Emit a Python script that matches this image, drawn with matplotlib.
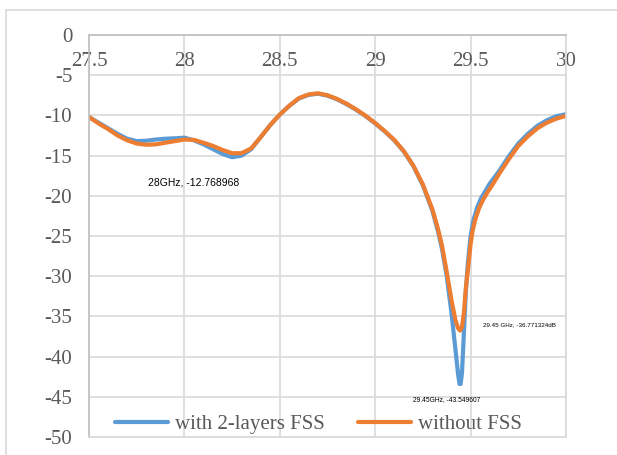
import matplotlib
matplotlib.use("Agg")
import matplotlib.pyplot as plt
from matplotlib.patches import Rectangle

freq_fss = [27.5, 27.55, 27.6, 27.65, 27.7, 27.75, 27.8, 27.85, 27.9, 27.95, 28.0, 28.05,
            28.1, 28.15, 28.2, 28.25, 28.3, 28.35, 28.4, 28.45, 28.5, 28.55, 28.6, 28.65,
            28.7, 28.75, 28.8, 28.85, 28.9, 28.95, 29.0, 29.05, 29.1, 29.15, 29.2, 29.25,
            29.3, 29.33, 29.35, 29.375, 29.4, 29.42, 29.435, 29.442, 29.448, 29.455, 29.465,
            29.475, 29.485, 29.5, 29.515, 29.535, 29.555, 29.58, 29.6, 29.65, 29.7, 29.75,
            29.8, 29.85, 29.9, 29.95, 30.0]
s11_fss = [-10.2, -10.9, -11.6, -12.3, -12.9, -13.2, -13.15, -13.0, -12.9, -12.85, -12.77, -13.1,
           -13.6, -14.2, -14.8, -15.2, -15.0, -14.2, -12.7, -11.2, -9.9, -8.8, -7.9, -7.45,
           -7.3, -7.55, -8.0, -8.6, -9.3, -10.1, -11.0, -12.0, -13.1, -14.5, -16.3, -18.7,
           -21.9, -24.5, -26.6, -30.0, -34.6, -39.0, -42.3, -43.4, -43.4, -42.0, -37.0,
           -32.0, -28.5, -25.0, -23.0, -21.4, -20.3, -19.3, -18.5, -16.9, -15.1, -13.5,
           -12.3, -11.3, -10.6, -10.1, -9.85]

freq_nofss = [27.5, 27.55, 27.6, 27.65, 27.7, 27.75, 27.8, 27.85, 27.9, 27.95, 28.0, 28.05,
              28.1, 28.15, 28.2, 28.25, 28.3, 28.35, 28.4, 28.45, 28.5, 28.55, 28.6, 28.65,
              28.7, 28.75, 28.8, 28.85, 28.9, 28.95, 29.0, 29.05, 29.1, 29.15, 29.2, 29.25,
              29.3, 29.33, 29.35, 29.375, 29.4, 29.42, 29.435, 29.445, 29.455, 29.465, 29.475,
              29.49, 29.5, 29.51, 29.525, 29.545, 29.565, 29.59, 29.61, 29.65, 29.7, 29.75,
              29.8, 29.85, 29.9, 29.95, 30.0]
s11_nofss = [-10.2, -11.0, -11.7, -12.5, -13.1, -13.5, -13.65, -13.6, -13.4, -13.2, -13.0, -13.05,
             -13.4, -13.8, -14.3, -14.7, -14.7, -14.1, -12.7, -11.2, -9.9, -8.8, -7.85, -7.4,
             -7.25, -7.5, -7.95, -8.55, -9.25, -10.05, -10.95, -11.95, -13.05, -14.45, -16.25, -18.6,
             -21.7, -24.2, -26.2, -29.5, -33.0, -35.4, -36.5, -36.77, -36.3, -34.5, -31.5,
             -28.3, -26.0, -24.4, -22.9, -21.5, -20.5, -19.5, -18.8, -17.25, -15.45, -13.8,
             -12.6, -11.6, -10.9, -10.4, -10.05]

x_ticks = [27.5, 28, 28.5, 29, 29.5, 30]
x_tick_labels = ["27.5", "28", "28.5", "29", "29.5", "30"]
y_ticks = [0, -5, -10, -15, -20, -25, -30, -35, -40, -45, -50]
y_tick_labels = [str(v) for v in y_ticks]

labels = ["with 2-layers FSS", "without FSS"]
annotations = [
    (28.05, -18.4, "28GHz, -12.768968", 7.5),
    (29.756, -36.07, "29.45 GHz, -36.771324dB", 4.5),
    (29.374, -45.4, "29.45GHz, -43.549607", 4.8),
]

serif = ["Liberation Serif", "DejaVu Serif"]
fig = plt.figure(figsize=(6.17, 4.55), dpi=100)
fig.patches.append(Rectangle((6/617, -0.02), 1.1, 1 - 10/455 + 0.02, transform=fig.transFigure,
                             fill=False, edgecolor="#D9D9D9", linewidth=1.2))
ax = fig.add_axes([89/617, 1 - 437/455, (566 - 89)/617, (437 - 35)/455])

ax.plot(freq_fss, s11_fss, color="#5B9BD5", linewidth=3.0, label=labels[0],
        solid_capstyle="round", solid_joinstyle="round")
ax.plot(freq_nofss, s11_nofss, color="#ED7D31", linewidth=3.0, label=labels[1],
        solid_capstyle="round", solid_joinstyle="round")

ax.set_xlim(27.5, 30)
ax.set_ylim(-50, 0)
ax.set_xticks(x_ticks)
ax.set_xticklabels(x_tick_labels, fontfamily=serif, fontsize=15, color="#595959")
ax.set_yticks(y_ticks)
ax.set_yticklabels(y_tick_labels, fontfamily=serif, fontsize=15, color="#595959")
ax.xaxis.tick_top()
ax.tick_params(axis="x", length=0, pad=-26)
ax.tick_params(axis="y", length=0, pad=12)
ax.grid(True, color="#D9D9D9", linewidth=1.2)
ax.set_axisbelow(True)
for side, sp in ax.spines.items():
    sp.set_color("#D9D9D9")
    sp.set_linewidth(1.2)
ax.spines["top"].set_color("#BFBFBF")
ax.spines["left"].set_color("#BFBFBF")

for x, y, t, fs in annotations:
    ax.text(x, y, t, fontsize=fs, family=["Liberation Sans", "DejaVu Sans"],
            ha="center", va="center", color="black")

leg = ax.legend(loc="center left", ncol=2, frameon=False, prop={"family": serif, "size": 15},
                handlelength=2.55, columnspacing=1.6, handletextpad=0.33,
                borderpad=0, borderaxespad=0, bbox_to_anchor=(26/477, 13/402))
for t in leg.get_texts():
    t.set_color("#595959")

fig.savefig("out.png", dpi=100)
